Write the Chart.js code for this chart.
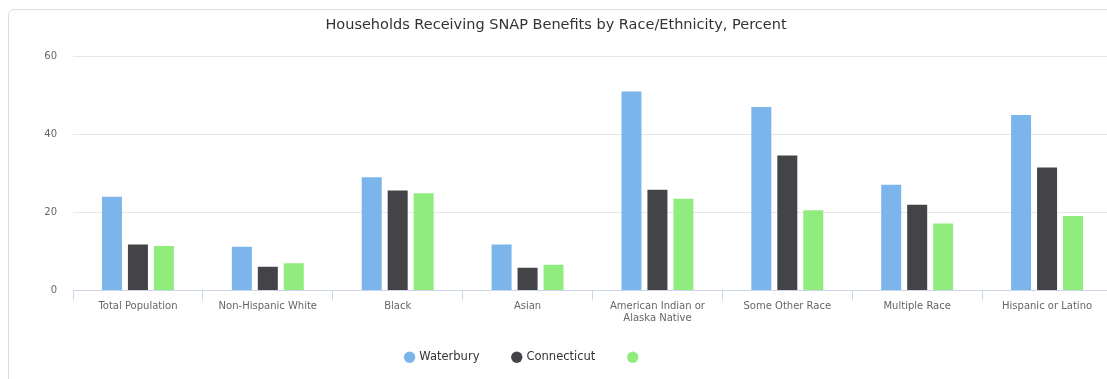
<!DOCTYPE html>
<html>
<head>
<meta charset="utf-8">
<script src="https://cdn.jsdelivr.net/npm/chart.js@4"></script>
<style>
  html, body { margin: 0; padding: 0; background: #fff; overflow: hidden; }
  #frame {
    position: absolute; left: 8px; top: 9px; width: 1130px; height: 400px;
    border: 1px solid #dedede; border-radius: 6px; box-sizing: border-box;
  }
  #wrap { position: absolute; left: 0; top: 0; width: 1120px; height: 379px; }
</style>
</head>
<body>
<div id="frame"></div>
<div id="wrap"><canvas id="snapChart" width="1120" height="379"></canvas></div>
<script>
// chart data
const categories = [
    'Total Population', 'Non-Hispanic White', 'Black', 'Asian',
    ['American Indian or', 'Alaska Native'], 'Some Other Race', 'Multiple Race', 'Hispanic or Latino'
];
const waterbury = [24, 11.2, 29, 11.8, 51, 47, 27.1, 45];
const connecticut = [11.8, 6.1, 25.6, 5.8, 25.8, 34.6, 22, 31.5];
const thirdSeries = [11.4, 7, 24.9, 6.6, 23.5, 20.6, 17.2, 19.1];
const yTicks = [0, 20, 40, 60];

const fontFamily = '"DejaVu Sans", sans-serif';

// legend sits a bit left of centre in the original
const legendShift = {
    id: 'legendShift',
    afterLayout(chart) {
        const lg = chart.legend;
        if (lg) { lg.left -= 32; lg.right -= 32; }
    }
};

// Initialize chart
function initializeChart() {
    const ctx = document.getElementById('snapChart').getContext('2d');
    return new Chart(ctx, {
        type: 'bar',
        data: {
            labels: categories,
            datasets: [
                // trailing nbsp only widens the gap between legend items
                { label: 'Waterbury\u00a0\u00a0', data: waterbury, backgroundColor: '#7cb5ec' },
                { label: 'Connecticut\u00a0\u00a0', data: connecticut, backgroundColor: '#434348' },
                { label: '', data: thirdSeries, backgroundColor: '#90ed7d' }
            ]
        },
        plugins: [legendShift],
        options: {
            responsive: false,
            animation: false,
            categoryPercentage: 0.6,
            barPercentage: 0.77,
            layout: { padding: { left: 0, right: 8, top: 0, bottom: 6 } },
            plugins: {
                title: {
                    display: true,
                    text: 'Households Receiving SNAP Benefits by Race/Ethnicity, Percent',
                    color: '#333',
                    font: { family: fontFamily, size: 14.5, weight: 'normal' },
                    padding: { top: 17, bottom: 22 }
                },
                legend: {
                    position: 'bottom',
                    labels: {
                        usePointStyle: true,
                        pointStyle: 'circle',
                        boxWidth: 8,
                        boxHeight: 8,
                        padding: 26,
                        color: '#333',
                        font: { family: fontFamily, size: 11.5, weight: 'normal' }
                    }
                },
                tooltip: { enabled: false }
            },
            scales: {
                x: {
                    grid: {
                        offset: true,
                        drawOnChartArea: false,
                        drawTicks: true,
                        tickLength: 10,
                        color: '#ccd6eb'
                    },
                    border: { color: '#ccd6eb' },
                    ticks: {
                        autoSkip: false,
                        maxRotation: 0,
                        padding: 0,
                        color: '#666',
                        font: { family: fontFamily, size: 10 }
                    },
                    afterFit: scale => { scale.height = 35; }
                },
                y: {
                    min: 0,
                    max: 60,
                    afterBuildTicks: scale => { scale.ticks = yTicks.map(v => ({ value: v })); },
                    grid: { color: '#e6e6e6', drawTicks: false },
                    border: { display: false },
                    ticks: {
                        padding: 16,
                        color: '#666',
                        font: { family: fontFamily, size: 10 }
                    },
                    afterFit: scale => { scale.width = 73; }
                }
            }
        }
    });
}

document.addEventListener('DOMContentLoaded', () => {
    initializeChart();
});
</script>
</body>
</html>
